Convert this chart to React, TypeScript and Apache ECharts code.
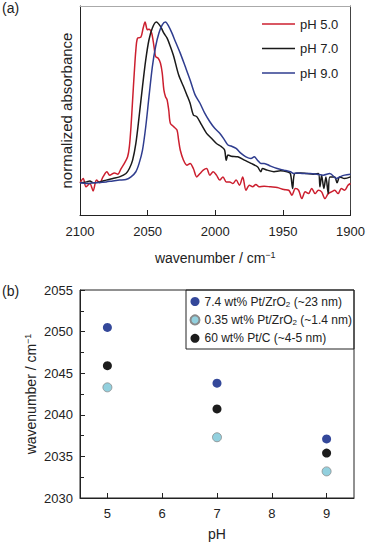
import React, { useEffect, useRef } from "react";
import * as echarts from "echarts";

// Panel (a): IR spectra, wavenumber (cm^-1) vs normalized absorbance
const wn5 = [2100, 2097.6, 2095.6, 2092.7, 2090.3, 2087.8, 2085.4, 2083.0, 2080.1, 2078.1, 2074.5, 2072.1, 2069.6, 2067.2, 2064.8, 2063.5, 2062.3, 2061.1, 2059.9, 2058.7, 2057.5, 2055.0, 2053.3, 2051.9, 2050.2, 2049.0, 2047.0, 2045.3, 2044.1, 2042.2, 2040.5, 2039.2, 2038.0, 2036.8, 2035.6, 2034.4, 2033.2, 2030.7, 2028.3, 2027.1, 2025.9, 2023.5, 2021.0, 2018.6, 2016.2, 2013.7, 2011.3, 2008.9, 2006.4, 2004.0, 2001.6, 1999.1, 1996.7, 1994.3, 1991.9, 1989.4, 1987.0, 1984.6, 1982.1, 1979.7, 1977.3, 1974.8, 1972.4, 1970.0, 1967.6, 1963.9, 1959.1, 1954.2, 1949.3, 1945.7, 1943.3, 1940.8, 1938.4, 1936.0, 1933.5, 1931.1, 1928.7, 1926.2, 1923.8, 1921.4, 1918.9, 1916.5, 1914.1, 1911.7, 1909.2, 1906.8, 1904.4, 1901.9, 1900.0];
const abs5 = [0.0, 0.027, -0.025, -0.004, -0.05, 0.017, 0.0, 0.037, 0.069, 0.048, 0.062, 0.054, 0.089, 0.121, 0.162, 0.225, 0.349, 0.516, 0.682, 0.827, 0.9, 0.906, 0.963, 1.0, 0.952, 0.956, 0.931, 0.848, 0.786, 0.775, 0.744, 0.682, 0.578, 0.536, 0.516, 0.453, 0.37, 0.349, 0.328, 0.266, 0.204, 0.141, 0.11, 0.121, 0.089, 0.037, 0.058, 0.079, 0.089, 0.048, 0.069, 0.048, 0.017, 0.037, 0.006, 0.006, -0.004, 0.017, -0.015, 0.037, -0.046, -0.015, -0.025, -0.01, -0.025, -0.021, -0.025, -0.029, -0.042, -0.046, -0.077, -0.035, -0.046, -0.098, -0.056, -0.067, -0.035, -0.067, -0.046, -0.056, -0.098, -0.067, -0.056, -0.046, -0.067, -0.035, -0.046, -0.015, -0.004];

const wn7 = [2100, 2095.1, 2092.7, 2090.3, 2085.4, 2080.6, 2075.7, 2070.8, 2066.0, 2063.5, 2061.1, 2058.7, 2056.3, 2053.8, 2051.4, 2049.0, 2046.5, 2043.6, 2040.5, 2038.0, 2035.6, 2033.2, 2030.7, 2027.1, 2023.5, 2021.0, 2018.6, 2016.2, 2013.7, 2010.1, 2006.4, 2002.8, 1999.1, 1995.5, 1993.1, 1991.9, 1990.6, 1988.2, 1983.4, 1978.5, 1973.6, 1968.8, 1966.3, 1965.1, 1961.5, 1956.6, 1951.8, 1946.9, 1944.5, 1942.8, 1941.3, 1937.2, 1932.3, 1927.5, 1923.8, 1922.6, 1921.4, 1919.7, 1918.2, 1916.5, 1915.3, 1911.7, 1910.0, 1908.0, 1904.4, 1900];
const abs7 = [0, 0.006, 0.012, 0.0, 0.006, 0.017, 0.027, 0.037, 0.058, 0.089, 0.141, 0.245, 0.412, 0.599, 0.765, 0.89, 0.963, 1.0, 0.973, 0.931, 0.9, 0.848, 0.786, 0.672, 0.599, 0.547, 0.495, 0.422, 0.412, 0.36, 0.308, 0.277, 0.245, 0.225, 0.204, 0.141, 0.173, 0.166, 0.162, 0.141, 0.121, 0.1, 0.069, 0.089, 0.079, 0.069, 0.075, 0.069, 0.058, -0.035, 0.058, 0.062, 0.058, 0.054, 0.058, -0.025, 0.048, -0.035, 0.037, -0.067, 0.037, 0.037, 0.0, 0.037, 0.027, 0.037];

const wn9 = [2100, 2095.1, 2090.3, 2085.4, 2080.6, 2075.7, 2070.8, 2066.0, 2062.3, 2058.7, 2056.3, 2053.8, 2051.4, 2049.0, 2046.5, 2044.1, 2041.7, 2039.2, 2036.8, 2034.4, 2032.0, 2029.5, 2025.9, 2022.2, 2018.6, 2014.9, 2011.3, 2007.7, 2004.0, 2000.4, 1996.7, 1993.1, 1990.6, 1988.2, 1984.6, 1980.9, 1977.3, 1973.6, 1971.2, 1968.8, 1966.3, 1963.9, 1959.1, 1954.2, 1949.3, 1944.5, 1942.0, 1939.6, 1934.8, 1929.9, 1925.0, 1920.2, 1915.3, 1910.5, 1908.0, 1904.4, 1900];
const abs9 = [0, -0.004, 0, 0.002, 0.006, 0.012, 0.017, 0.021, 0.037, 0.069, 0.121, 0.204, 0.349, 0.536, 0.723, 0.848, 0.931, 0.983, 1.0, 0.973, 0.931, 0.879, 0.807, 0.723, 0.64, 0.547, 0.495, 0.432, 0.38, 0.339, 0.308, 0.266, 0.235, 0.229, 0.214, 0.183, 0.162, 0.152, 0.162, 0.141, 0.121, 0.121, 0.104, 0.089, 0.079, 0.069, 0.058, 0.062, 0.058, 0.058, 0.054, 0.048, 0.058, 0.027, 0.037, 0.048, 0.054];

const spectraNames = ["pH 5.0", "pH 7.0", "pH 9.0"];
const spectraColors = ["#cc1f2f", "#1a1a1a", "#2f3d8f"];

// Panel (b): peak position vs pH
const pHValues = [5, 7, 9];
const peak74 = [2050.5, 2043.8, 2037.1];
const peak035 = [2043.3, 2037.3, 2033.2];
const peak60 = [2045.9, 2040.7, 2035.4];
const peakNames = ["7.4 wt% Pt/ZrO2 (~23 nm)", "0.35 wt% Pt/ZrO2 (~1.4 nm)", "60 wt% Pt/C (~4-5 nm)"];
const peakColors = ["#34489a", "#92d0de", "#1c1c1c"];

const FONT = "'Liberation Sans', Arial, Helvetica, sans-serif";
const TXT = "#222";

function zip(a: number[], b: number[]) {
  return a.map((v, i) => [v, b[i]]);
}

export default function App() {
  const ref = useRef<HTMLDivElement>(null);
  useEffect(() => {
    if (!ref.current) return;
    const chart = echarts.init(ref.current, null, { renderer: "svg" });
    const specData = [zip(wn5, abs5), zip(wn7, abs7), zip(wn9, abs9)];
    const peakData = [peak74, peak035, peak60].map((p) => zip(pHValues, p));
    const supRich = {
      a: { fontSize: 14, fontFamily: FONT, color: TXT, lineHeight: 16 },
      s: { fontSize: 9, fontFamily: FONT, color: TXT, verticalAlign: "top", lineHeight: 16 },
    };
    const plain = (v: number) => String(v);
    chart.setOption({
      animation: false,
      textStyle: { fontFamily: FONT },
      grid: [
        { left: 80, top: 6, width: 275, height: 209, show: false },
        { left: 80, top: 290, width: 274, height: 208, show: true, borderColor: "#222", borderWidth: 1 },
      ],
      xAxis: [
        {
          gridIndex: 0, type: "value", min: 1900, max: 2100, interval: 50, inverse: true,
          axisLine: { show: true, onZero: false, lineStyle: { color: "#222", width: 1 } },
          axisTick: { show: true, inside: true, length: 5, lineStyle: { color: "#222" } },
          axisLabel: { fontSize: 13, color: TXT, margin: 10, fontFamily: FONT, formatter: plain },
          splitLine: { show: false },
          name: "{a|wavenumber / cm}{s|−1}", nameLocation: "middle", nameGap: 35, nameMoveOverlap: false,
          nameTextStyle: { rich: supRich },
        },
        {
          gridIndex: 0, type: "value", min: 1900, max: 2100, position: "top",
          axisLine: { show: true, onZero: false, lineStyle: { color: "#aaa", width: 1 } },
          axisTick: { show: false }, axisLabel: { show: false }, splitLine: { show: false },
        },
        {
          gridIndex: 1, type: "value", min: 4.5, max: 9.5, splitNumber: 5,
          axisLine: { show: true, onZero: false, lineStyle: { color: "#222", width: 1 } },
          axisTick: { show: true, inside: true, length: 5, lineStyle: { color: "#222" } },
          axisLabel: {
            fontSize: 13, color: TXT, margin: 9, fontFamily: FONT,
            showMinLabel: false, showMaxLabel: false,
            formatter: (v: number) => (Number.isInteger(v) ? String(v) : ""),
          },
          splitLine: { show: false },
          name: "pH", nameLocation: "middle", nameGap: 29, nameMoveOverlap: false,
          nameTextStyle: { fontSize: 14, color: TXT, fontFamily: FONT },
        },
      ],
      yAxis: [
        {
          gridIndex: 0, type: "value", min: -0.2, max: 1.1,
          axisLine: { show: true, onZero: false, lineStyle: { color: "#222", width: 1 } },
          axisTick: { show: false }, axisLabel: { show: false }, splitLine: { show: false },
          name: "normalized absorbance", nameLocation: "middle", nameGap: 6, nameMoveOverlap: false,
          nameTextStyle: { fontSize: 15, color: TXT, fontFamily: FONT },
        },
        {
          gridIndex: 0, type: "value", min: -0.2, max: 1.1, position: "right",
          axisLine: { show: true, onZero: false, lineStyle: { color: "#444", width: 1 } },
          axisTick: { show: false }, axisLabel: { show: false }, splitLine: { show: false },
        },
        {
          gridIndex: 1, type: "value", min: 2030, max: 2055, interval: 5,
          axisLine: { show: true, onZero: false, lineStyle: { color: "#222", width: 1 } },
          axisTick: { show: true, inside: true, length: 5, lineStyle: { color: "#222" } },
          minorTick: { show: true, splitNumber: 2, length: 4, lineStyle: { color: "#222" } },
          axisLabel: { fontSize: 13, color: TXT, margin: 7, fontFamily: FONT, formatter: plain },
          splitLine: { show: false },
          name: "{a|wavenumber / cm}{s|−1}", nameLocation: "middle", nameGap: 41, nameMoveOverlap: false,
          nameTextStyle: { rich: supRich },
        },
      ],
      legend: [
        {
          data: spectraNames, orient: "vertical", left: 262, top: 17, padding: 0,
          itemWidth: 33, itemHeight: 1.6, itemGap: 10.5, icon: "rect",
          textStyle: { fontSize: 13, color: TXT, fontFamily: FONT, lineHeight: 14 },
        },
        {
          data: peakNames, orient: "vertical", left: 189.5, top: 294.5, padding: 0,
          itemWidth: 9, itemHeight: 9, itemGap: 4.4, icon: "circle",
          formatter: (name: string) => {
            const i = name.indexOf("ZrO2");
            if (i < 0) return "{a|" + name + "}";
            return "{a|" + name.slice(0, i + 3) + "}{s|2}{a|" + name.slice(i + 4) + "}";
          },
          textStyle: {
            fontSize: 12, color: TXT, fontFamily: FONT, lineHeight: 14,
            rich: {
              a: { fontSize: 12, fontFamily: FONT, color: TXT, lineHeight: 14 },
              s: { fontSize: 8, fontFamily: FONT, color: TXT, lineHeight: 14, verticalAlign: "bottom" },
            },
          },
        },
      ],
      graphic: [
        { type: "text", left: 2, top: 1, style: { text: "(a)", fontSize: 14, fill: TXT, fontFamily: FONT } },
        { type: "text", left: 2, top: 284, style: { text: "(b)", fontSize: 14, fill: TXT, fontFamily: FONT } },
        {
          type: "rect", shape: { x: 186, y: 290, width: 168, height: 59 },
          style: { fill: "none", stroke: "#222", lineWidth: 1 }, z: 10,
        },
      ],
      series: [
        ...spectraNames.map((n, i) => ({
          name: n, type: "line", xAxisIndex: 0, yAxisIndex: 0, data: specData[i],
          symbol: "none", smooth: 0.3,
          lineStyle: { color: spectraColors[i], width: 1.5 },
          itemStyle: { color: spectraColors[i] },
        })),
        ...peakNames.map((n, i) => ({
          name: n, type: "scatter", xAxisIndex: 2, yAxisIndex: 2, data: peakData[i],
          symbol: "circle", symbolSize: 9,
          itemStyle: {
            color: peakColors[i],
            borderColor: i === 1 ? "#8a8a8a" : peakColors[i],
            borderWidth: i === 1 ? 0.8 : 0,
            opacity: 1,
          },
        })),
      ],
    });
    return () => chart.dispose();
  }, []);
  return <div ref={ref} style={{ position: "absolute", left: 0, top: 0, width: 368, height: 544 }} />;
}
